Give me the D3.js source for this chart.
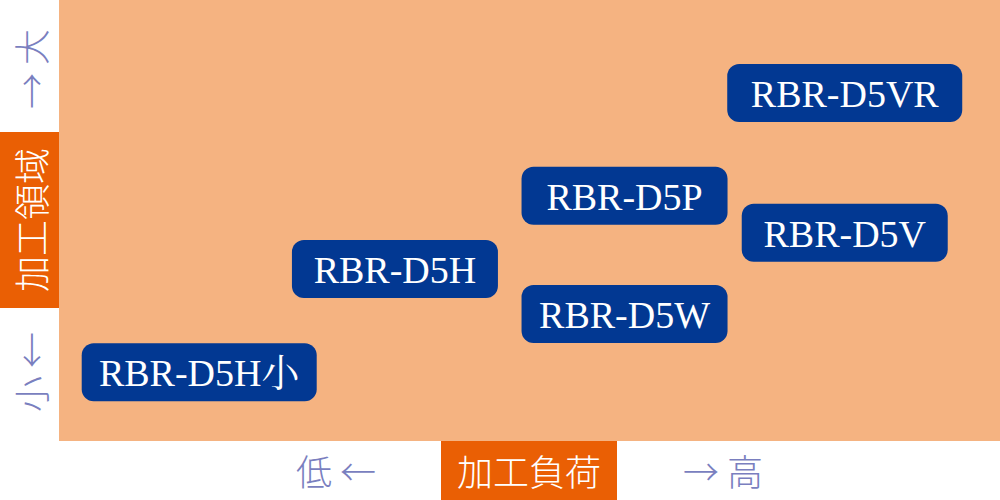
<!DOCTYPE html>
<html><head><meta charset="utf-8">
<script src="https://cdn.jsdelivr.net/npm/d3@7"></script>
<style>html,body{margin:0;padding:0;background:#fff;}svg{display:block;}</style>
</head><body>
<svg id="chart" width="1000" height="500"></svg>
<script>
// Data
const models = ["RBR-D5VR","RBR-D5P","RBR-D5V","RBR-D5H","RBR-D5W","RBR-D5H小"];
const loadValues = [8.35, 6.01, 8.35, 3.57, 6.01, 1.49];   // 加工負荷 (x)
const areaValues = [7.89, 5.56, 4.72, 3.90, 2.88, 1.56];   // 加工領域 (y)
const xAxisTitle = "加工負荷";
const yAxisTitle = "加工領域";
const xLowLabel = "低 ←", xHighLabel = "→ 高";
const yLowLabel = "小 ←", yHighLabel = "→ 大";

const W = 1000, H = 500;
const plot = {left: 59, right: 1000, top: 0, bottom: 441};
const svg = d3.select("#chart");

const x = d3.scaleLinear().domain([0, 10]).range([plot.left, plot.right]);
const y = d3.scaleLinear().domain([0, 10]).range([plot.bottom, plot.top]);

const LIGHT = "#F5B381", DARK = "#EA5F04", BLUE = "#023892", AX = "#7A7FBF";
const cjk = "'Noto Sans CJK JP', 'Noto Sans', sans-serif";

svg.append("rect").attr("x", plot.left).attr("y", plot.top)
  .attr("width", plot.right - plot.left).attr("height", plot.bottom - plot.top)
  .attr("fill", LIGHT);

// Y axis title box
svg.append("rect").attr("x", 0).attr("y", 132).attr("width", plot.left).attr("height", 176).attr("fill", DARK);
function vtext(txt, cy, color) {
  svg.append("text").attr("transform", `translate(30,${cy}) rotate(-90)`)
    .attr("text-anchor", "middle").attr("dominant-baseline", "central")
    .attr("font-family", cjk).attr("font-weight", 300).attr("font-size", 36).attr("fill", color).text(txt);
}
vtext(yAxisTitle, 220, "#fff");
vtext(yHighLabel, 69, AX);
vtext(yLowLabel, 372, AX);

// X axis title box
svg.append("rect").attr("x", 441).attr("y", plot.bottom).attr("width", 176).attr("height", H - plot.bottom).attr("fill", DARK);
function htext(txt, cx, color) {
  svg.append("text").attr("x", cx).attr("y", 470)
    .attr("text-anchor", "middle").attr("dominant-baseline", "central")
    .attr("font-family", cjk).attr("font-weight", 300).attr("font-size", 36).attr("fill", color).text(txt);
}
htext(xAxisTitle, 529, "#fff");
htext(xLowLabel, 336, AX);
htext(xHighLabel, 723, AX);

// Labels
const data = models.map((m, i) => ({name: m, x: loadValues[i], y: areaValues[i]}));
const g = svg.selectAll("g.lab").data(data).join("g").attr("class", "lab")
  .attr("transform", d => `translate(${x(d.x)},${y(d.y)})`);
const boxW = d => 206 + 29 * (d.name.length - 7);
g.append("rect").attr("fill", BLUE).attr("rx", 12).attr("ry", 12)
  .attr("x", d => -boxW(d) / 2).attr("y", -29)
  .attr("width", boxW).attr("height", 58);
g.append("text").attr("text-anchor", "middle").attr("dominant-baseline", "central")
  .attr("y", 1)
  .attr("font-family", "'Liberation Serif', 'Noto Serif CJK JP', 'Noto Sans CJK JP', serif")
  .attr("font-size", 38).attr("fill", "#fff").text(d => d.name);
</script>
</body></html>
